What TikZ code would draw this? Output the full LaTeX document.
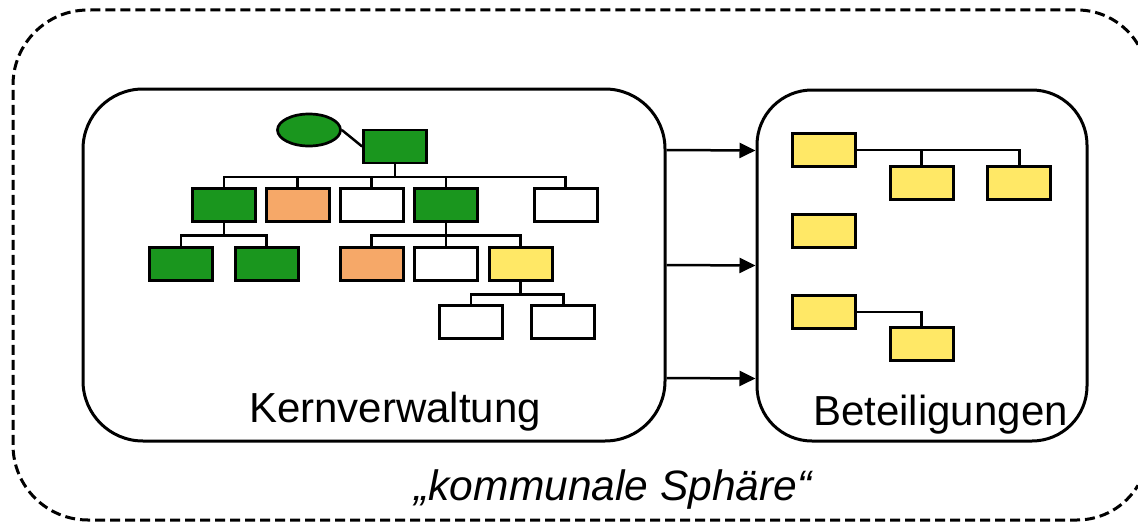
\documentclass[tikz,border=0pt]{standalone}
\usepackage{fontspec}
\setmainfont{Liberation Sans}
\usetikzlibrary{arrows.meta,shapes.geometric,calc}
\definecolor{orggreen}{RGB}{26,150,30}
\definecolor{orgorange}{RGB}{246,168,104}
\definecolor{orgyellow}{RGB}{255,232,102}
\begin{document}
\begin{tikzpicture}[x=1pt,y=-1pt,
  unit/.style={rectangle,draw,line width=2.7pt,minimum width=63pt,minimum height=33pt,inner sep=0pt},
  g/.style={unit,fill=orggreen},
  o/.style={unit,fill=orgorange},
  w/.style={unit,fill=white},
  yl/.style={unit,fill=orgyellow},
  link/.style={line width=2.5pt},
  panel/.style={draw,line width=3pt,inner sep=0pt},
  arr/.style={line width=2.5pt,-{Triangle[length=16pt,width=15pt]}},
  lbl/.style={font=\fontsize{42pt}{49pt}\selectfont,inner sep=0pt}
]
\useasboundingbox (0,0) rectangle (1138,522);

% outer dashed boundary; its right side lies beyond the page edge
\draw[line width=3pt,dash pattern=on 10pt off 5pt]
  (1138,44.6) arc[start angle=-30.8,end angle=-90,radius=71]
  -- (88,10) arc[start angle=-90,end angle=-180,radius=75]
  -- (13,445) arc[start angle=180,end angle=90,radius=75]
  -- (1077,520) arc[start angle=90,end angle=30.8,radius=71];

% panels
\node[panel,rounded corners=60pt,minimum width=582pt,minimum height=352pt] (lp) at (374,265) {};
\node[panel,rounded corners=55pt,minimum width=330pt,minimum height=351pt] (rp) at (922,265.5) {};

% arrows between the panels
\draw[arr] ([yshift=115pt]lp.east) -- ([yshift=115pt]rp.west);
\draw[arr] (lp.east) -- (rp.west);
\draw[arr] ([yshift=-113pt]lp.east) -- ([yshift=-113pt]rp.west);

% core administration tree
\node[ellipse,draw,line width=2.7pt,fill=orggreen,minimum width=63pt,minimum height=32pt,inner sep=0pt] (el) at (309,130) {};
\node[g] (t0) at (395,146.5) {};
\draw[link] (el.east) -- (t0.west);

\node[g]  (a) at (224,205) {};
\node[o]  (b) at (297.7,205) {};
\node[w]  (c) at (371.7,205) {};
\node[g]  (d) at (446,205) {};
\node[w]  (e) at (565.7,205) {};

\node[g]  (f) at (181,264) {};
\node[g]  (gg) at (266.7,264) {};
\node[o]  (h) at (371.7,264) {};
\node[w]  (i) at (446,264) {};
\node[yl] (j) at (520.7,264) {};

\node[w]  (k) at (471,322.3) {};
\node[w]  (l) at (563.3,322.3) {};

\foreach \p/\c in {t0/a,t0/b,t0/c,t0/d,t0/e,a/f,a/gg,d/h,d/i,d/j,j/k,j/l}
  \draw[link] (\p.south) -- ++(0,12.5) -| (\c.north);

% holdings
\node[yl] (r1) at (824,150) {};
\node[yl] (r2) at (921.7,183) {};
\node[yl] (r3) at (1019.3,183) {};
\node[yl] (r4) at (824,231) {};
\node[yl] (r5) at (824,312) {};
\node[yl] (r6) at (921.7,344.3) {};
\draw[link] (r1.east) -| (r2.north);
\draw[link] (r1.east) -| (r3.north);
\draw[link] (r5.east) -| (r6.north);

% labels
\node[lbl,anchor=base] (lk) at (395,422) {Kernverwaltung};
\node[lbl,anchor=base] (lb) at (940.5,425) {Beteiligungen};
\node[lbl,anchor=base,font=\fontsize{42.5pt}{49pt}\selectfont\itshape] (ls) at (613,500) {„kommunale Sphäre“};
\end{tikzpicture}
\end{document}
